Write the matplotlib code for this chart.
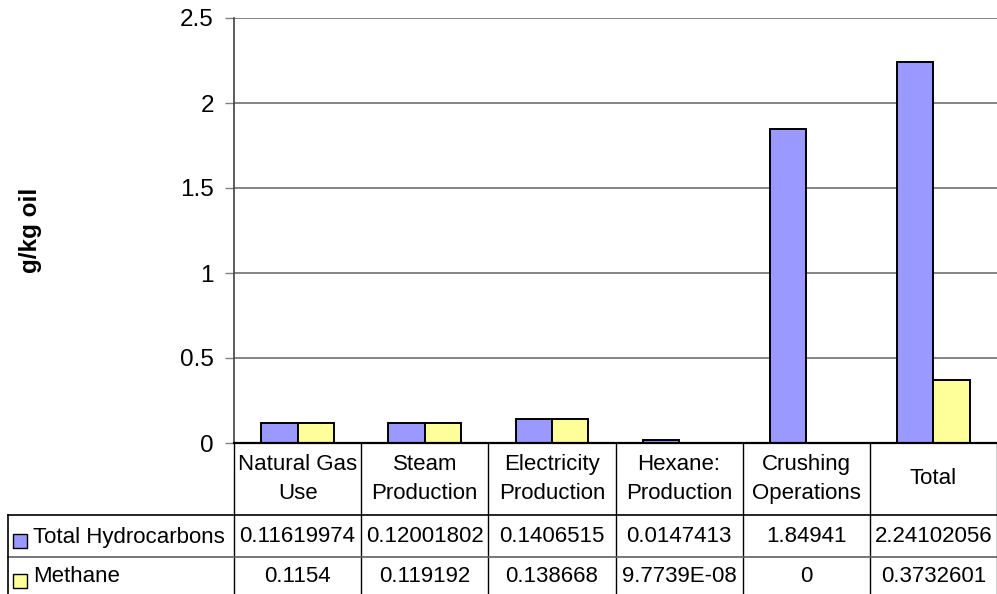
import matplotlib
matplotlib.use("Agg")
import matplotlib.pyplot as plt
from matplotlib.transforms import blended_transform_factory
from matplotlib.patches import Rectangle
from matplotlib.ticker import FuncFormatter

plt.rcParams['font.family'] = ['Liberation Sans', 'DejaVu Sans']

categories = ["Natural Gas\nUse", "Steam\nProduction", "Electricity\nProduction",
              "Hexane:\nProduction", "Crushing\nOperations", "Total"]
series_names = ["Total Hydrocarbons", "Methane"]
total_hydrocarbons = [0.11619974, 0.12001802, 0.1406515, 0.0147413, 1.84941, 2.24102056]
methane = [0.1154, 0.119192, 0.138668, 9.7739e-08, 0, 0.3732601]
yticks = [0, 0.5, 1, 1.5, 2, 2.5]

colors = ["#9999FF", "#FFFF99"]
W, H = 997, 594

def fmt(v):
    if 0 < abs(v) < 1e-4:
        return f"{v:.4E}"
    return f"{v:.10g}"

fig = plt.figure(figsize=(W / 100, H / 100), dpi=100)
ax_left, ax_right, ax_top, ax_bot = 234, 997, 18, 443
ax = fig.add_axes([ax_left / W, (H - ax_bot) / H, (ax_right - ax_left) / W, (ax_bot - ax_top) / H])

n = len(categories)
bw = 1 / 3.5
xs = list(range(n))
for k, (vals, col) in enumerate(zip([total_hydrocarbons, methane], colors)):
    offs = (k - 0.5) * bw
    ax.bar([x + offs for x in xs], vals, width=bw, color=col, edgecolor="black",
           linewidth=1.4, zorder=3)

ax.set_xlim(-0.5, n - 0.5)
ax.set_ylim(0, 2.5)
ax.set_yticks(yticks)
ax.yaxis.set_major_formatter(FuncFormatter(lambda v, p: f"{v:g}"))
ax.tick_params(axis="y", labelsize=17.5, length=6.5, width=1, color="#808080", pad=8)
ax.set_xticks([])
ax.grid(axis="y", color="#707070", linewidth=1.2, zorder=0)
for s in ["top", "right"]:
    ax.spines[s].set_visible(False)
ax.spines["left"].set_color("#404040")
ax.spines["left"].set_linewidth(1.2)
ax.spines["bottom"].set_color("black")
ax.spines["bottom"].set_linewidth(1.6)
ax.spines["bottom"].set_zorder(4)

fig.text(30 / W, 1 - 230 / H, "g/kg oil", rotation=90, fontsize=17.5, fontweight="bold",
         ha="center", va="center")

# data table below the plot
tr = blended_transform_factory(ax.transData, fig.transFigure)
def fy(py):
    return 1 - py / H

hdr_top, hdr_bot = 443, 515
row_bounds = [515, 557, 599]
row_centers = [537, 577]
line_kw = dict(color="black", linewidth=1.0, clip_on=False)

for i in range(n + 1):
    x = i - 0.5
    ax.plot([x, x], [fy(hdr_top), fy(row_bounds[-1])], transform=tr, **line_kw)
left_px = 8
for j, yb in enumerate(row_bounds[:-1]):
    col = "black" if j == 0 else "#606060"
    fig.add_artist(plt.Line2D([left_px / W, 1], [fy(yb), fy(yb)], color=col, linewidth=1.2))
fig.add_artist(plt.Line2D([left_px / W, left_px / W], [fy(row_bounds[0]), fy(row_bounds[-1])],
                          color="black", linewidth=1.2))

for i, c in enumerate(categories):
    ax.text(i, fy((hdr_top + hdr_bot) / 2), c, transform=tr, ha="center", va="center",
            fontsize=16, linespacing=1.45)

for j, (name, vals, col) in enumerate(zip(series_names, [total_hydrocarbons, methane], colors)):
    yc = row_centers[j]
    fig.add_artist(Rectangle((13 / W, fy(yc + 11)), 14 / W, 14 / H, facecolor=col,
                             edgecolor="black", linewidth=1.0))
    fig.text(33 / W, fy(yc), name, fontsize=16, ha="left", va="center")
    for i, v in enumerate(vals):
        ax.text(i, fy(yc), fmt(v), transform=tr, ha="center", va="center", fontsize=16)

fig.savefig("out.png", dpi=100)
